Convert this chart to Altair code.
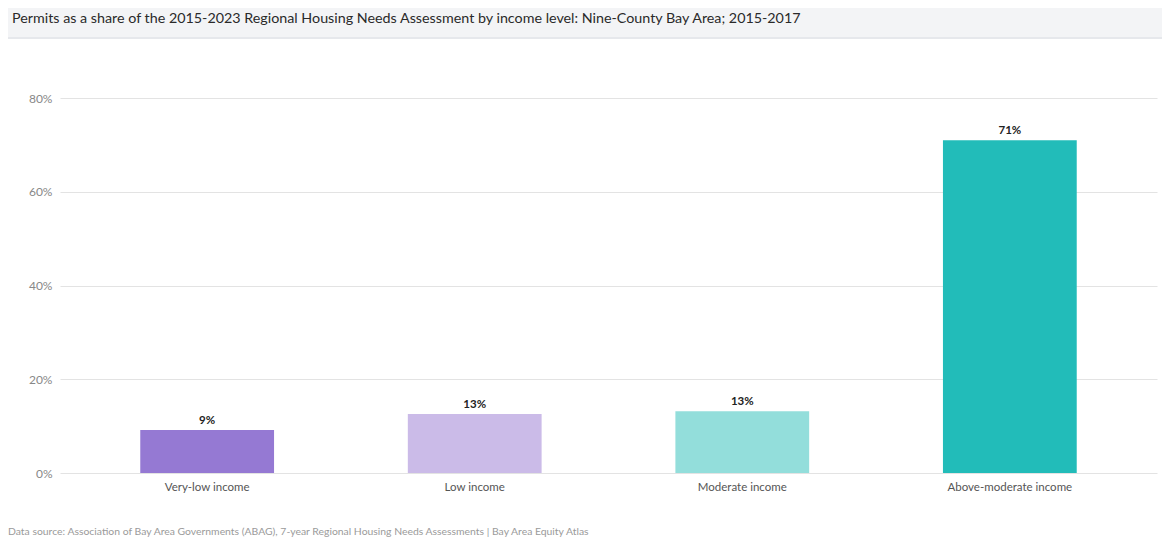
import altair as alt
import pandas as pd

categories = ["Very-low income", "Low income", "Moderate income", "Above-moderate income"]
values = [9.2, 12.6, 13.2, 71.0]
labels = ["9%", "13%", "13%", "71%"]
colors = ["#9579d3", "#cbbbe8", "#93dedb", "#22bcb9"]
y_ticks = [0, 20, 40, 60, 80]
title_text = "Permits as a share of the 2015-2023 Regional Housing Needs Assessment by income level: Nine-County Bay Area; 2015-2017"
source_text = "Data source: Association of Bay Area Governments (ABAG), 7-year Regional Housing Needs Assessments | Bay Area Equity Atlas"

df = pd.DataFrame({"cat": categories, "val": values, "lab": labels})
FONT = "Lato"

x = alt.X("cat:N", sort=categories, title=None,
          scale=alt.Scale(paddingInner=0.5, paddingOuter=0.3),
          axis=alt.Axis(labelAngle=0, labelFontSize=11.5, labelColor="#555555", labelFont=FONT,
                        domain=False, ticks=False, labelPadding=8))
y = alt.Y("val:Q", title=None,
          scale=alt.Scale(domain=[0, 80], nice=False),
          axis=alt.Axis(values=y_ticks, labelExpr="datum.value + '%'", labelFontSize=12,
                        labelColor="#888888", labelFont=FONT, domain=False, ticks=False,
                        labelPadding=8, gridColor="#e3e3e3", gridWidth=1.2))

bars = alt.Chart(df).mark_bar().encode(
    x=x, y=y,
    color=alt.Color("cat:N", scale=alt.Scale(domain=categories, range=colors), legend=None),
)
text = alt.Chart(df).mark_text(dy=-9, fontSize=11.5, fontWeight="bold", color="#222222", font=FONT).encode(
    x=alt.X("cat:N", sort=categories), y="val:Q", text="lab:N"
)

band = alt.Chart(pd.DataFrame({"a": [0]})).mark_rect(color="#f3f4f6").encode(
    x=alt.value(-52), x2=alt.value(1102), y=alt.value(-90), y2=alt.value(-61)
)
shadow = alt.Chart(pd.DataFrame({"a": [0]})).mark_rule(color="#e6e8ec", strokeWidth=2).encode(
    x=alt.value(-52), x2=alt.value(1102), y=alt.value(-60)
)
title = alt.Chart(pd.DataFrame({"t": [title_text]})).mark_text(
    align="left", baseline="middle", fontSize=14.3, color="#2a2a2a", font=FONT
).encode(x=alt.value(-48), y=alt.value(-79), text="t:N")
source = alt.Chart(pd.DataFrame({"t": [source_text]})).mark_text(
    align="left", baseline="middle", fontSize=10.4, color="#9a9a9a", font=FONT
).encode(x=alt.value(-52), y=alt.value(434), text="t:N")

chart = alt.layer(band, shadow, title, bars, text, source).properties(
    width=1097, height=375,
    autosize=alt.AutoSizeParams(type="none"),
    padding={"left": 52, "top": 90, "right": 5, "bottom": 70},
).configure_view(stroke=None)

chart.save("out.html", embed_options={"renderer": "svg", "actions": False})
